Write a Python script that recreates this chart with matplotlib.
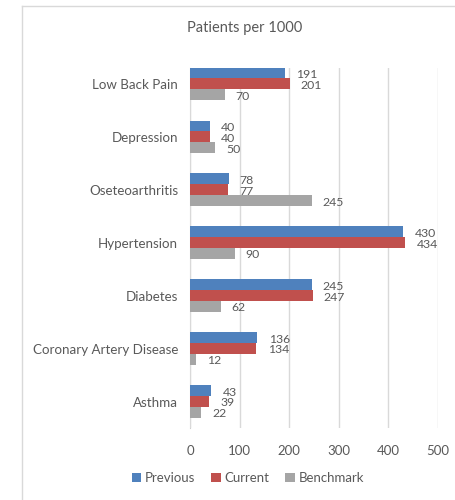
import matplotlib
matplotlib.use("Agg")
import matplotlib.pyplot as plt
from matplotlib.lines import Line2D
import numpy as np

categories = ["Asthma", "Coronary Artery Disease", "Diabetes", "Hypertension",
              "Oseteoarthritis", "Depression", "Low Back Pain"]
previous = [43, 136, 245, 430, 78, 40, 191]
current = [39, 134, 247, 434, 77, 40, 201]
benchmark = [22, 12, 62, 90, 245, 50, 70]
series_names = ["Previous", "Current", "Benchmark"]
colors = ["#4F81BD", "#C0504D", "#A5A5A5"]
x_ticks = [0, 100, 200, 300, 400, 500]

plt.rcParams["font.family"] = ["Lato", "DejaVu Sans"]
text_color = "#595959"

fig = plt.figure(figsize=(4.56, 5.0), dpi=100)
ax = fig.add_axes([190 / 456, 1 - 428 / 500, 248 / 456, 360 / 500])

y = np.arange(len(categories))
h = 0.205
offsets = [h, 0, -h]
for vals, off, col, name in zip([previous, current, benchmark], offsets, colors, series_names):
    bars = ax.barh(y + off, vals, height=h, color=col, label=name, zorder=3)
    for b, v in zip(bars, vals):
        ax.annotate(str(v), (b.get_width(), b.get_y() + b.get_height() / 2),
                    xytext=(8, -1), textcoords="offset points", ha="left", va="center",
                    fontsize=8.8, color=text_color)

ax.set_xlim(0, 500)
ax.set_ylim(-0.5, 6.3)
ax.set_xticks(x_ticks)
ax.set_yticks(y)
ax.set_yticklabels(categories)
ax.tick_params(axis="y", length=0, pad=8.5, labelsize=9.6, labelcolor=text_color)
ax.tick_params(axis="x", length=0, pad=12, labelsize=9.5, labelcolor=text_color)
ax.grid(axis="x", color="#D9D9D9", linewidth=1, zorder=0)
for s in ["top", "right", "bottom"]:
    ax.spines[s].set_visible(False)
ax.spines["left"].set_color("#D0D0D0")
ax.spines["left"].set_zorder(1)

fig.text(245 / 456, 1 - 28 / 500, "Patients per 1000", ha="center", va="center",
         fontsize=10.5, color=text_color)

# chart frame
fig.add_artist(Line2D([22 / 456, 22 / 456], [0, 1 - 6 / 500], transform=fig.transFigure,
                      color="#D9D9D9", linewidth=1))
fig.add_artist(Line2D([22 / 456, 1], [1 - 6 / 500, 1 - 6 / 500], transform=fig.transFigure,
                      color="#D9D9D9", linewidth=1))

handles, labels = ax.get_legend_handles_labels()
fig.legend(handles, labels, loc="center", bbox_to_anchor=(248 / 456, 1 - 478 / 500),
           ncol=3, frameon=False, fontsize=9.5, labelcolor=text_color,
           handlelength=0.7, handleheight=0.7, handletextpad=0.3, columnspacing=1.2)

fig.savefig("out.png", dpi=100)
